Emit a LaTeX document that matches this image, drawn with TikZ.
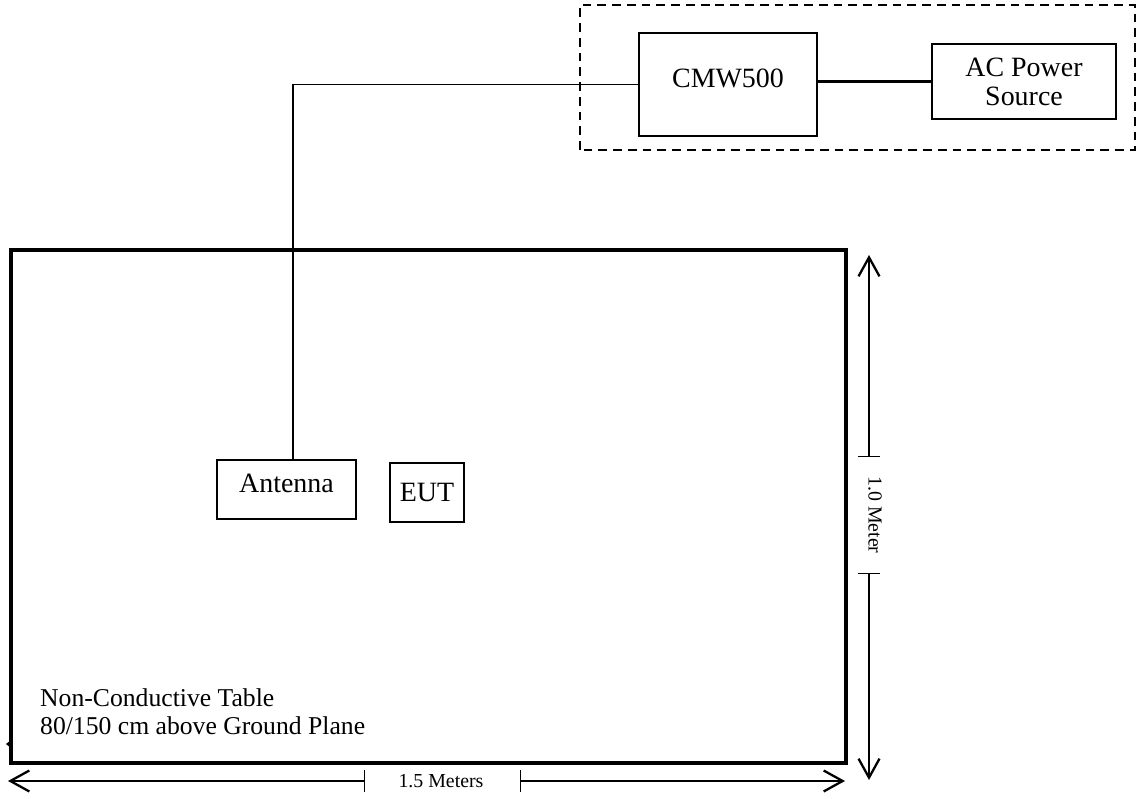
\documentclass[tikz,border=0pt]{standalone}
\usepackage{fontspec}
\setmainfont{Liberation Serif}
\usetikzlibrary{arrows.meta}

\begin{document}
\begin{tikzpicture}[
    unit/.style={draw, line width=1.4pt, inner sep=0pt, align=center,
                 font=\fontsize{15.9}{16.5}\selectfont},
    wire/.style={line width=0.85pt},
    power/.style={line width=1.9pt},
    dim/.style={line width=0.75pt,
                {Bar[width=4.4mm]}-{Straight Barb[length=3.8mm,width=4.2mm,line width=1.3pt]}},
    dimlabel/.style={font=\fontsize{11.3}{12}\selectfont, inner sep=1pt}
  ]
        \useasboundingbox (0,0) rectangle (22.78,15.96);

        \node [draw, line width=1.9pt, inner sep=0pt, minimum width=16.70cm,
               minimum height=10.26cm] (tbl) at (8.57,5.83) {};           %table
        \fill  (0.22,1.16) -- (0.12,1.08) -- (0.22,1.00) -- cycle;         %
        \node [anchor=west, align=left, font=\fontsize{14.6}{15.9}\selectfont]
              (tbltext) at (0.68,1.72) {Non-Conductive Table\\80/150 cm above Ground Plane};

        \draw [line width=1.3pt, dash pattern=on 5pt off 3.4pt]
              (11.6,12.96) rectangle (22.7,15.86);                        %rack
        \node [unit, minimum width=3.56cm, minimum height=2.06cm, text depth=0.24cm]
              (cmw) at (14.56,14.27) {CMW500};                             %
        \node [unit, minimum width=3.68cm, minimum height=1.50cm]
              (ac) at (20.48,14.33) {AC Power\\Source};                    %
        \draw [power] (cmw.east |- ac.west) -- (ac.west);                  %

        \node [unit, minimum width=2.78cm, minimum height=1.18cm, text depth=0.24cm]
              (ant) at (5.73,6.17) {Antenna};                              %
        \node [unit, minimum width=1.48cm, minimum height=1.18cm]
              (eut) at (8.54,6.11) {EUT};                                  %
        \coordinate (bend) at (5.86,0);                                    %
        \draw [wire] (cmw.west) -- (cmw.west -| bend) -- (bend |- ant.north);

        \coordinate (vtop) at (17.38,10.86);                               %1.0 m
        \coordinate (vbot) at (17.38,0.36);                                %
        \coordinate (vt1)  at (17.38,6.82);                                %
        \coordinate (vt2)  at (17.38,4.50);                                %
        \draw [dim] (vt1) -- (vtop);                                       %
        \draw [dim] (vt2) -- (vbot);                                       %
        \node [dimlabel, rotate=-90] (vlabel) at (17.50,5.66) {1.0 Meter}; %

        \coordinate (hl)  at (0.16,0.34);                                  %1.5 m
        \coordinate (hr)  at (16.90,0.34);                                 %
        \coordinate (ht1) at (7.30,0.34);                                  %
        \coordinate (ht2) at (10.40,0.34);                                 %
        \draw [dim] (ht1) -- (hl);                                         %
        \draw [dim] (ht2) -- (hr);                                         %
        \node [dimlabel] (hlabel) at (8.82,0.34) {1.5 Meters};             %
      \end{tikzpicture}
\end{document}
